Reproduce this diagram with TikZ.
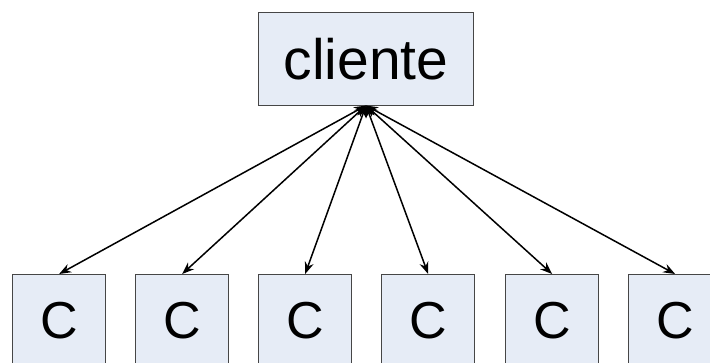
\documentclass[tikz,border=0pt]{standalone}
\usepackage{fontspec}
\setmainfont{Liberation Sans}
\usetikzlibrary{arrows.meta}
\definecolor{boxfill}{RGB}{230,236,246}
\definecolor{boxline}{RGB}{70,70,70}
\begin{document}
\begin{tikzpicture}[x=1pt,y=-1pt,
  box/.style={draw=boxline,fill=boxfill,line width=1.3pt,inner sep=0pt,anchor=north west},
  link/.style={line width=1.5pt,{Stealth[length=12pt,width=9pt]}-{Stealth[length=12pt,width=9pt]}}]
\useasboundingbox (0,0) rectangle (710,362);
\clip (0,0) rectangle (710,362);
% server box
\node[box,minimum width=215pt,minimum height=93pt,font=\fontsize{57}{57}\selectfont] (cli) at (258,12) {cliente};
% client boxes, cut by the lower edge
\foreach \i/\x in {1/12,2/135,3/258,4/381,5/505,6/628}{
  \node[box,minimum width=93pt,minimum height=100pt,text depth=0pt,font=\fontsize{52}{52}\selectfont] (c\i) at (\x,274) {\raisebox{9pt}{C}};
}
\coordinate (hub) at (366,105.5);
\foreach \i in {1,...,6}{
  \draw[link] (hub) -- (c\i.north);
}
\end{tikzpicture}
\end{document}
